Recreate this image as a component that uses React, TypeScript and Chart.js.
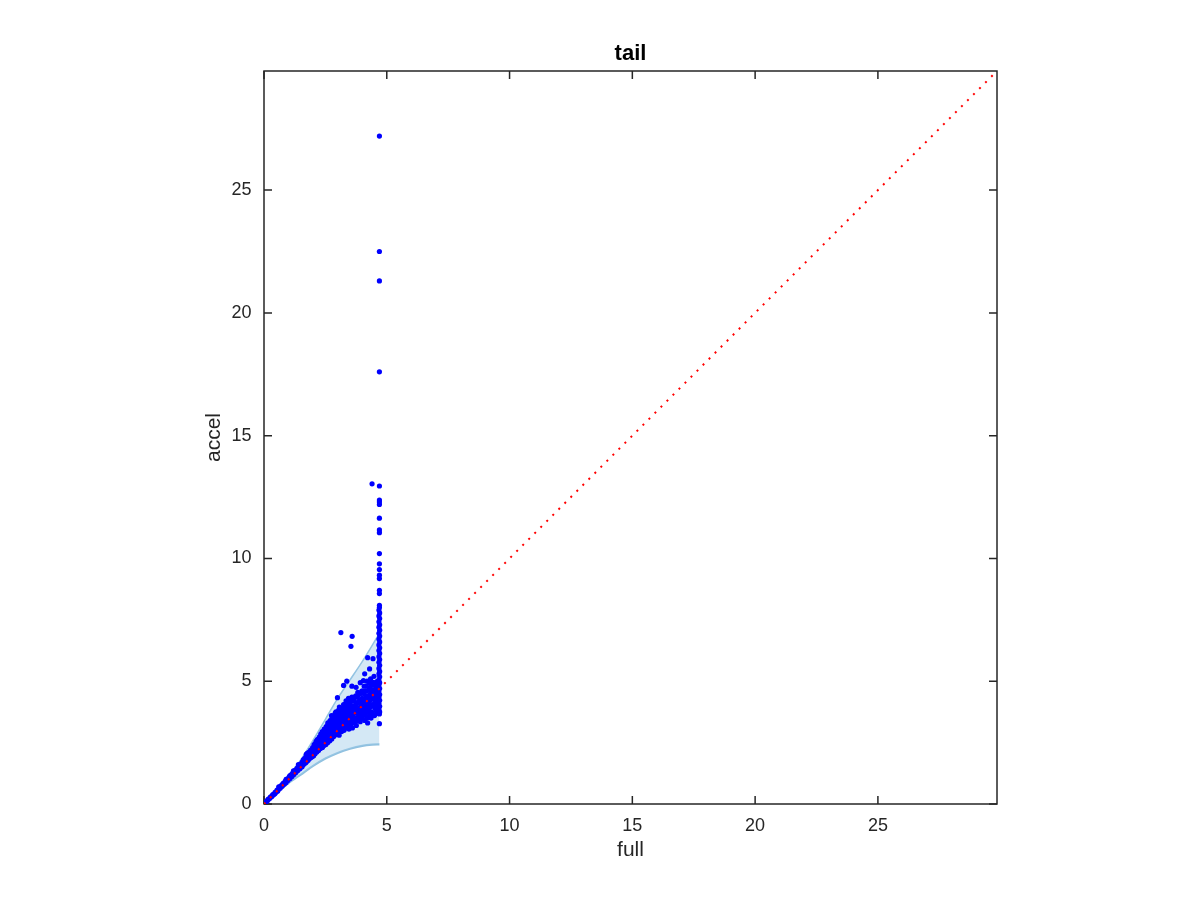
import React, { useEffect, useRef } from "react";
import { Chart, registerables } from "chart.js";

Chart.register(...registerables);

const AXIS_MAX = 29.85;
const xTickLabels = ["0", "5", "10", "15", "20", "25"];
const yTickLabels = ["0", "5", "10", "15", "20", "25"];
const titleText = "tail";
const xTitle = "full";
const yTitle = "accel";

// Envelope band (upper and lower edges share x values)
const bandX = [0, 0.5, 1.0, 1.5, 2.0, 2.5, 3.0, 3.5, 4.0, 4.4, 4.7];
const bandUpper = [0, 0.55, 1.15, 1.8, 2.6, 3.45, 4.3, 5.05, 5.8, 6.45, 6.95];
const bandLower = [0, 0.45, 0.85, 1.2, 1.55, 1.85, 2.08, 2.25, 2.37, 2.42, 2.43];

// Reference diagonal
const diagX = [0, AXIS_MAX];
const diagY = [0, AXIS_MAX];

// Scatter: main cloud along the diagonal
const cloudPoints: [number, number][] = [
  [0, 0], [0.03, 0.02], [0.08, 0.09], [0.13, 0.12], [0.18, 0.2], [0.22, 0.21], [0.27, 0.29], [0.31, 0.3],
  [0.36, 0.38], [0.4, 0.39], [0.45, 0.47], [0.49, 0.48], [0.53, 0.57], [0.57, 0.55], [0.62, 0.66], [0.66, 0.64],
  [0.7, 0.75], [0.74, 0.72], [0.78, 0.84], [0.82, 0.8], [0.86, 0.92], [0.9, 0.88], [0.94, 1.01], [0.98, 0.97],
  [1.02, 1.1], [1.06, 1.04], [1.1, 1.19], [1.14, 1.12], [1.18, 1.28], [1.22, 1.2], [1.26, 1.36], [1.3, 1.28],
  [1.34, 1.45], [1.38, 1.36], [1.42, 1.54], [1.46, 1.44], [1.5, 1.62], [1.5, 1.5],
  [0.6, 0.7], [0.9, 1.0], [1.2, 1.35], [1.4, 1.6],
  [0.05, 0.07], [0.15, 0.17], [0.25, 0.26], [0.35, 0.35], [0.44, 0.42], [0.55, 0.52], [0.65, 0.7], [0.75, 0.79],
  [0.85, 0.85], [0.95, 0.96], [1.05, 1.15], [1.15, 1.22], [1.25, 1.3], [1.35, 1.4], [1.45, 1.5],
  [1.55, 1.52], [1.55, 1.7], [1.6, 1.6], [1.6, 1.8], [1.65, 1.65], [1.65, 1.85], [1.7, 1.68], [1.7, 1.9],
  [1.72, 2.02], [1.75, 1.74], [1.78, 1.95], [1.8, 1.78], [1.82, 2.1], [1.85, 1.85], [1.86, 2.02], [1.9, 1.88],
  [1.9, 2.2], [1.94, 2.06], [1.96, 1.92], [1.98, 2.3], [2.0, 2.12],
  [1.52, 1.62], [1.58, 1.72], [1.62, 1.7], [1.68, 1.78], [1.74, 1.86], [1.76, 2.06], [1.8, 1.98], [1.84, 1.96],
  [1.88, 2.12], [1.92, 2.0], [1.95, 2.18], [1.99, 2.05],
  [2.02, 1.96], [2.04, 2.42], [2.06, 2.2], [2.08, 2.05], [2.1, 2.34], [2.12, 2.55], [2.15, 2.12], [2.16, 2.28],
  [2.18, 2.45], [2.2, 2.62], [2.22, 2.18], [2.24, 2.36], [2.26, 2.52], [2.28, 2.7], [2.3, 2.26], [2.32, 2.42],
  [2.34, 2.6], [2.36, 2.8], [2.38, 2.3], [2.4, 2.5], [2.42, 2.68], [2.44, 2.38], [2.46, 2.9], [2.48, 2.56], [2.5, 2.75],
  [2.03, 2.1], [2.05, 2.3], [2.09, 2.46], [2.11, 2.2], [2.14, 2.38], [2.17, 2.62], [2.19, 2.3], [2.21, 2.5],
  [2.25, 2.72], [2.27, 2.4], [2.29, 2.58], [2.31, 2.85], [2.33, 2.5], [2.35, 2.7], [2.37, 2.95], [2.39, 2.42],
  [2.41, 2.6], [2.43, 2.82], [2.45, 3.05], [2.47, 2.48], [2.49, 2.66],
  [2.52, 2.42], [2.54, 2.62], [2.56, 2.85], [2.58, 3.05], [2.6, 2.5], [2.62, 2.7], [2.64, 2.95], [2.66, 3.2],
  [2.68, 2.58], [2.7, 2.8], [2.72, 3.05], [2.74, 3.35], [2.76, 2.65], [2.78, 2.9], [2.8, 3.15], [2.82, 3.5],
  [2.84, 2.75], [2.86, 3.0], [2.88, 3.28], [2.9, 3.7], [2.92, 2.82], [2.94, 3.1], [2.96, 3.4], [2.98, 3.6],
  [3.0, 2.9], [3.0, 3.2],
  [2.51, 2.9], [2.53, 3.15], [2.55, 2.52], [2.57, 2.75], [2.59, 2.95], [2.61, 3.25], [2.63, 2.6], [2.65, 2.82],
  [2.67, 3.05], [2.69, 3.4], [2.71, 2.7], [2.73, 2.92], [2.75, 3.18], [2.77, 3.5], [2.79, 2.78], [2.81, 3.0],
  [2.83, 3.3], [2.85, 3.6], [2.87, 2.88], [2.89, 3.12], [2.91, 3.45], [2.93, 3.75], [2.95, 2.95], [2.97, 3.25], [2.99, 3.52],
  [3.02, 3.5], [3.04, 3.82], [3.06, 2.8], [3.08, 3.05], [3.1, 3.3], [3.12, 3.6], [3.14, 3.9], [3.16, 2.95],
  [3.18, 3.18], [3.2, 3.45], [3.22, 3.72], [3.24, 4.05], [3.26, 3.0], [3.28, 3.3], [3.3, 3.55], [3.32, 3.85],
  [3.34, 4.2], [3.36, 3.1], [3.38, 3.4], [3.4, 3.65], [3.42, 3.95], [3.44, 4.3], [3.46, 3.05], [3.48, 3.5],
  [3.5, 3.78], [3.5, 4.1],
  [3.01, 3.05], [3.03, 3.35], [3.05, 3.65], [3.07, 3.95], [3.09, 3.15], [3.11, 3.45], [3.13, 3.75], [3.15, 3.1],
  [3.17, 3.35], [3.19, 3.6], [3.21, 3.9], [3.23, 3.2], [3.25, 3.5], [3.27, 3.75], [3.29, 4.05], [3.31, 3.2],
  [3.33, 3.45], [3.35, 3.7], [3.37, 4.0], [3.39, 3.25], [3.41, 3.5], [3.43, 3.8], [3.45, 4.1], [3.47, 3.3], [3.49, 3.62],
  [3.52, 3.2], [3.54, 3.45], [3.56, 4.0], [3.58, 4.35], [3.6, 3.1], [3.62, 3.6], [3.64, 3.85], [3.66, 4.2],
  [3.68, 3.3], [3.7, 3.5], [3.72, 3.95], [3.74, 4.4], [3.76, 3.2], [3.78, 3.7], [3.8, 4.1], [3.82, 4.55],
  [3.84, 3.4], [3.86, 3.6], [3.88, 3.9], [3.9, 4.25], [3.92, 3.35], [3.94, 3.75], [3.96, 4.0], [3.98, 4.6],
  [4.0, 3.5], [4.0, 4.3],
  [3.51, 3.95], [3.53, 4.25], [3.55, 3.3], [3.57, 3.6], [3.59, 3.9], [3.61, 4.2], [3.63, 3.4], [3.65, 3.7],
  [3.67, 4.0], [3.69, 4.35], [3.71, 3.4], [3.73, 3.75], [3.75, 4.05], [3.77, 4.35], [3.79, 3.5], [3.81, 3.85],
  [3.83, 4.15], [3.85, 4.45], [3.87, 3.55], [3.89, 3.75], [3.91, 4.1], [3.93, 4.5], [3.95, 3.6], [3.97, 3.9], [3.99, 4.2],
  [4.02, 3.8], [4.04, 4.1], [4.06, 4.5], [4.08, 4.8], [4.1, 3.4], [4.12, 3.65], [4.14, 3.95], [4.16, 4.25],
  [4.18, 4.6], [4.2, 5.0], [4.22, 3.3], [4.24, 3.55], [4.26, 3.85], [4.28, 4.15], [4.3, 4.45], [4.32, 4.75],
  [4.34, 5.1], [4.36, 3.5], [4.38, 3.75], [4.4, 4.05], [4.42, 4.35], [4.44, 4.65], [4.46, 4.95], [4.48, 5.2],
  [4.5, 3.6], [4.52, 3.9], [4.54, 4.2], [4.56, 4.5], [4.58, 4.85], [4.6, 3.7], [4.6, 4.3], [4.62, 5.0],
  [4.01, 4.6], [4.03, 3.6], [4.05, 3.9], [4.07, 4.25], [4.09, 4.6], [4.11, 3.8], [4.13, 4.1], [4.15, 4.4],
  [4.17, 4.8], [4.19, 3.5], [4.21, 3.75], [4.23, 4.05], [4.25, 4.35], [4.27, 4.65], [4.29, 4.95], [4.31, 3.65],
  [4.33, 3.95], [4.35, 4.25], [4.37, 4.55], [4.39, 4.85], [4.41, 3.7], [4.43, 4.0], [4.45, 4.3], [4.47, 4.6],
  [4.49, 4.85], [4.51, 4.1], [4.53, 4.4], [4.55, 4.7], [4.57, 3.8], [4.59, 4.05], [4.61, 4.6], [4.63, 4.2],
];

// Scatter: isolated points off the cloud
const outlierPoints: [number, number][] = [
  [3.13, 6.98], [3.59, 6.83], [3.54, 6.42], [4.22, 5.96], [4.44, 5.92], [3.24, 4.83], [3.37, 5.0],
  [2.99, 4.33], [3.58, 4.8], [3.92, 4.94], [4.05, 5.03], [4.4, 13.04], [4.3, 5.5], [4.1, 5.3],
  [3.75, 4.75], [2.6, 3.3], [2.75, 3.6],
];

// Scatter: vertical column at full ≈ 4.7
const columnX = [
  4.7, 4.7, 4.7, 4.7, 4.7, 4.7, 4.7, 4.7, 4.7, 4.7, 4.7, 4.7, 4.7, 4.7, 4.7, 4.7, 4.7, 4.7, 4.7, 4.7,
  4.68, 4.71, 4.68, 4.71, 4.68, 4.71, 4.68, 4.71, 4.68, 4.71, 4.68, 4.71, 4.68, 4.71, 4.68, 4.71, 4.68, 4.71,
  4.68, 4.71, 4.68, 4.71, 4.68, 4.71, 4.68, 4.71, 4.68, 4.71, 4.68, 4.71, 4.68, 4.71, 4.68, 4.71, 4.68, 4.71, 4.7, 4.7,
];
const columnY = [
  27.2, 22.5, 21.3, 17.6, 12.95, 12.38, 12.3, 12.2, 11.64, 11.16, 11.05, 10.2, 9.78, 9.55, 9.32, 9.18, 8.7, 8.57, 8.09, 8.0,
  7.9, 7.78, 7.66, 7.55, 7.42, 7.3, 7.2, 7.08, 6.95, 6.84, 6.72, 6.6, 6.48, 6.36, 6.25, 6.13, 6.0, 5.88,
  5.77, 5.65, 5.52, 5.4, 5.3, 5.18, 5.05, 4.94, 4.82, 4.7, 4.58, 4.46, 4.35, 4.22, 4.1, 3.98, 3.86, 3.75, 3.67, 3.27,
];

const AXIS_COLOR = "#262626";
const FONT = "'Liberation Sans', Arial, Helvetica, sans-serif";

const frameTicksPlugin = {
  id: "frameTicks",
  beforeDatasetsDraw(chart: any) {
    const { ctx, chartArea } = chart;
    const { left, right, top, bottom } = chartArea;
    const xs = chart.scales.x;
    const ys = chart.scales.y;
    const tl = 8;
    ctx.save();
    ctx.strokeStyle = AXIS_COLOR;
    ctx.lineWidth = 1.5;
    ctx.strokeRect(left, top, right - left, bottom - top);
    ctx.beginPath();
    xs.ticks.forEach((t: any) => {
      const px = xs.getPixelForValue(t.value);
      ctx.moveTo(px, bottom);
      ctx.lineTo(px, bottom - tl);
      ctx.moveTo(px, top);
      ctx.lineTo(px, top + tl);
    });
    ys.ticks.forEach((t: any) => {
      const py = ys.getPixelForValue(t.value);
      ctx.moveTo(left, py);
      ctx.lineTo(left + tl, py);
      ctx.moveTo(right, py);
      ctx.lineTo(right - tl, py);
    });
    ctx.stroke();
    ctx.restore();
  },
  afterDraw(chart: any) {
    const { ctx, chartArea } = chart;
    ctx.save();
    ctx.fillStyle = "#000000";
    ctx.font = `bold 22px ${FONT}`;
    ctx.textAlign = "center";
    ctx.textBaseline = "alphabetic";
    ctx.fillText(titleText, (chartArea.left + chartArea.right) / 2, 60);
    ctx.restore();
  },
};

export default function App() {
  const ref = useRef<HTMLCanvasElement | null>(null);

  useEffect(() => {
    if (!ref.current) return;
    const scatterData = [
      ...cloudPoints.map(([x, y]) => ({ x, y })),
      ...outlierPoints.map(([x, y]) => ({ x, y })),
      ...columnX.map((x, i) => ({ x, y: columnY[i] })),
    ];
    const chart = new Chart(ref.current, {
      type: "scatter",
      data: {
        datasets: [
          {
            type: "line",
            label: "diag",
            data: diagX.map((x, i) => ({ x, y: diagY[i] })),
            borderColor: "#ff0000",
            borderWidth: 2,
            borderDash: [2, 6.5],
            pointRadius: 0,
            fill: false,
            order: 0,
          },
          {
            label: "points",
            data: scatterData,
            backgroundColor: "#0000ff",
            borderWidth: 0,
            pointRadius: 2.6,
            order: 1,
          },
          {
            type: "line",
            label: "upper",
            data: bandX.map((x, i) => ({ x, y: bandUpper[i] })),
            borderColor: "#93c3e2",
            borderWidth: 1.5,
            backgroundColor: "rgba(160, 203, 232, 0.45)",
            pointRadius: 0,
            tension: 0.3,
            fill: "+1",
            order: 2,
          },
          {
            type: "line",
            label: "lower",
            data: bandX.map((x, i) => ({ x, y: bandLower[i] })),
            borderColor: "#8fc0df",
            borderWidth: 2.2,
            pointRadius: 0,
            tension: 0.3,
            fill: false,
            order: 3,
          },
        ],
      },
      options: {
        responsive: false,
        animation: false,
        layout: { padding: { top: 71, right: 203, left: 0, bottom: 0 } },
        plugins: {
          legend: { display: false },
          title: { display: false },
          tooltip: { enabled: false },
        },
        scales: {
          x: {
            type: "linear",
            min: 0,
            max: AXIS_MAX,
            grid: { display: false },
            border: { display: false },
            ticks: {
              stepSize: 5,
              includeBounds: false,
              color: AXIS_COLOR,
              font: { family: FONT, size: 18 },
              padding: 3,
              callback: (v: any) => xTickLabels[Math.round(Number(v) / 5)] ?? "",
            },
            title: {
              display: true,
              text: xTitle,
              color: AXIS_COLOR,
              font: { family: FONT, size: 21 },
              padding: { top: 0, bottom: 37.5 },
            },
            afterFit: (s: any) => {
              s.height = 96;
            },
          },
          y: {
            type: "linear",
            min: 0,
            max: AXIS_MAX,
            grid: { display: false },
            border: { display: false },
            ticks: {
              stepSize: 5,
              includeBounds: false,
              color: AXIS_COLOR,
              font: { family: FONT, size: 18 },
              padding: 4.5,
              callback: (v: any) => yTickLabels[Math.round(Number(v) / 5)] ?? "",
            },
            title: {
              display: true,
              text: yTitle,
              color: AXIS_COLOR,
              font: { family: FONT, size: 21 },
              padding: { top: 202, bottom: 0 },
            },
            afterFit: (s: any) => {
              s.width = 264;
            },
          },
        },
      },
      plugins: [frameTicksPlugin],
    });
    return () => chart.destroy();
  }, []);

  return (
    <div style={{ position: "fixed", left: 0, top: 0, width: 1200, height: 900, background: "#ffffff" }}>
      <canvas ref={ref} width={1200} height={900} style={{ display: "block" }} />
    </div>
  );
}
